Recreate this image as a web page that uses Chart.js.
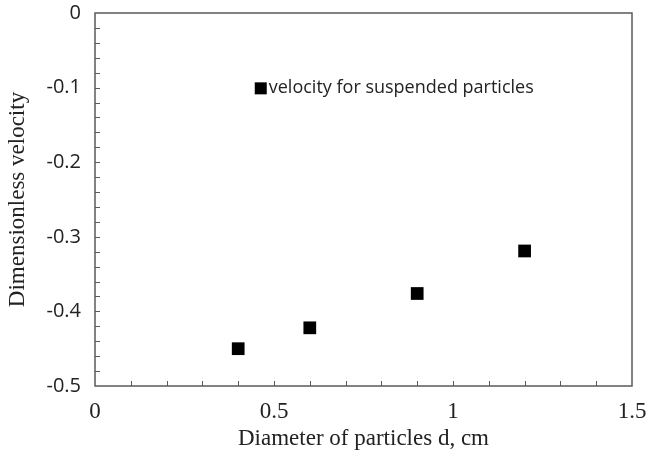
<!DOCTYPE html>
<html>
<head>
<meta charset="utf-8">
<script src="https://cdn.jsdelivr.net/npm/chart.js@4"></script>
<style>
  html, body { margin: 0; padding: 0; background: #fff; }
  #wrap { width: 648px; height: 457px; }
</style>
</head>
<body>
<div id="wrap"><canvas id="chart" width="648" height="457"></canvas></div>
<script>
var diameters = [0.4, 0.6, 0.9, 1.2];
var velocities = [-0.45, -0.422, -0.376, -0.319];
var seriesName = 'velocity for suspended particles';
var xLabels = [0, 0.5, 1, 1.5];

var axisColor = '#5a5a5a';

// minor ticks pointing into the plot + frame + in-plot legend
var decorations = {
    id: 'decorations',
    afterDatasetsDraw: function(chart) {
        var ctx = chart.ctx;
        var a = chart.chartArea;
        var xs = chart.scales.x, ys = chart.scales.y;
        ctx.save();
        ctx.strokeStyle = axisColor;
        ctx.lineWidth = 1.5;
        ctx.strokeRect(a.left, a.top, a.right - a.left, a.bottom - a.top);
        ctx.lineWidth = 1;
        ctx.beginPath();
        for (var i = 1; i < 15; i++) {
            var px = Math.round(xs.getPixelForValue(i / 10)) + 0.5;
            ctx.moveTo(px, a.bottom);
            ctx.lineTo(px, a.bottom - 5);
        }
        for (var j = 1; j < 25; j++) {
            var py = Math.round(ys.getPixelForValue(-j / 50)) + 0.5;
            ctx.moveTo(a.left, py);
            ctx.lineTo(a.left + 5, py);
        }
        ctx.stroke();

        // legend
        var lx = xs.getPixelForValue(0.463), ly = ys.getPixelForValue(-0.101);
        ctx.fillStyle = '#000';
        ctx.fillRect(lx - 6, ly - 6, 12, 12);
        ctx.fillStyle = '#222';
        ctx.font = '18px "Open Sans", sans-serif';
        ctx.textBaseline = 'middle';
        ctx.fillText(seriesName, lx + 8, ly);
        ctx.restore();
    }
};

new Chart(document.getElementById('chart'), {
    type: 'scatter',
    data: {
        datasets: [{
            label: seriesName,
            data: diameters.map(function(d, i) { return { x: d, y: velocities[i] }; }),
            pointStyle: 'rect',
            pointRadius: 9,
            pointHoverRadius: 9,
            backgroundColor: '#000',
            borderColor: '#000',
            borderWidth: 0
        }]
    },
    options: {
        responsive: false,
        animation: false,
        layout: { padding: { top: 13, right: 16, left: 0, bottom: 0 } },
        plugins: {
            legend: { display: false },
            tooltip: { enabled: false }
        },
        scales: {
            x: {
                type: 'linear',
                min: 0,
                max: 1.5,
                grid: { display: false, drawTicks: false },
                border: { display: false },
                afterFit: function(s) { s.height = 71; s.paddingLeft = 0; s.paddingRight = 0; },
                ticks: {
                    stepSize: 0.5,
                    padding: 12,
                    color: '#222',
                    font: { family: '"Liberation Serif", "Times New Roman", serif', size: 23 },
                    callback: function(v) { return xLabels.indexOf(v) >= 0 ? String(v) : ''; }
                },
                title: {
                    display: true,
                    text: 'Diameter of particles d, cm',
                    color: '#222',
                    padding: { top: 0, bottom: 4 },
                    font: { family: '"Liberation Serif", "Times New Roman", serif', size: 23 }
                }
            },
            y: {
                type: 'linear',
                min: -0.5,
                max: 0,
                grid: { display: false, drawTicks: false },
                border: { display: false },
                afterFit: function(s) { s.width = 95; s.paddingTop = 0; s.paddingBottom = 0; },
                ticks: {
                    stepSize: 0.1,
                    padding: 14,
                    color: '#222',
                    font: { family: '"Open Sans", sans-serif', size: 20 },
                    callback: function(v) { return String(Math.round(v * 10) / 10); }
                },
                title: {
                    display: true,
                    text: 'Dimensionless velocity',
                    color: '#222',
                    padding: { top: 4, bottom: 0 },
                    font: { family: '"Liberation Serif", "Times New Roman", serif', size: 23 }
                }
            }
        }
    },
    plugins: [decorations]
});
</script>
</body>
</html>
